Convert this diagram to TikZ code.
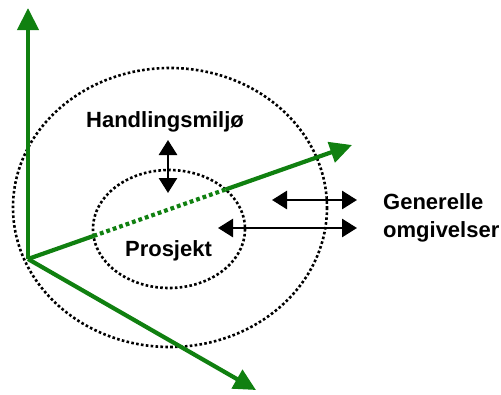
\documentclass[tikz,border=0pt]{standalone}
\usepackage{fontspec}
\setmainfont{Liberation Sans}
\usetikzlibrary{arrows.meta,calc}
\definecolor{axisgreen}{RGB}{16,128,16}
\tikzset{
  axis/.style={draw=axisgreen, line width=4.2pt, -{Triangle[length=22pt,width=21pt]}},
  axisline/.style={draw=axisgreen, line width=4.2pt},
  axisdots/.style={draw=axisgreen, line width=4.2pt, dash pattern=on 3.8pt off 3pt},
  ring/.style={draw=black, line width=2.6pt, dash pattern=on 2.6pt off 2.3pt},
  twoway/.style={draw=black, line width=2.8pt, {Triangle[length=15pt,width=18pt]}-{Triangle[length=15pt,width=18pt]}},
  label/.style={font=\bfseries\fontsize{22}{28}\selectfont, inner sep=0pt, anchor=base},
}
\begin{document}
\begin{tikzpicture}[x=1pt, y=-1pt]
  \useasboundingbox (0,0) rectangle (501,394);

  % the two environments
  \draw[ring] (170,207.5) ellipse [x radius=157, y radius=139.5];
  \draw[ring] (169,229) ellipse [x radius=76, y radius=59];

  % axes from a common origin
  \coordinate (O) at (28,259);
  \coordinate (up) at (28,8);
  \coordinate (right) at (352,145);
  \coordinate (down) at (256,390);
  \coordinate (in1) at ($(O)!0.2023!(right)$);
  \coordinate (in2) at ($(O)!0.6094!(right)$);

  \draw[axis] (O) -- (up);
  \draw[axis] (O) -- (down);
  \draw[axisline] (O) -- (in1);
  \draw[axisdots] (in1) -- (in2);
  \draw[axis] (in2) -- (right);

  % labels
  \node[label] (hm) at (165,127) {Handlingsmiljø};
  \node[label] (pr) at (168.5,256) {Prosjekt};
  \node[label, anchor=base west] (ge) at (383,209) {Generelle};
  \node[label, anchor=base west] (om) at (383,237) {omgivelser};

  % interactions
  \coordinate (v1) at (168,140);
  \coordinate (v2) at (168,193);
  \draw[twoway] (v1) -- (v2);
  \coordinate (h1) at (272,200);
  \coordinate (h2) at (357,200);
  \draw[twoway] (h1) -- (h2);
  \coordinate (h3) at (218,228);
  \coordinate (h4) at (357,228);
  \draw[twoway] (h3) -- (h4);
\end{tikzpicture}
\end{document}
